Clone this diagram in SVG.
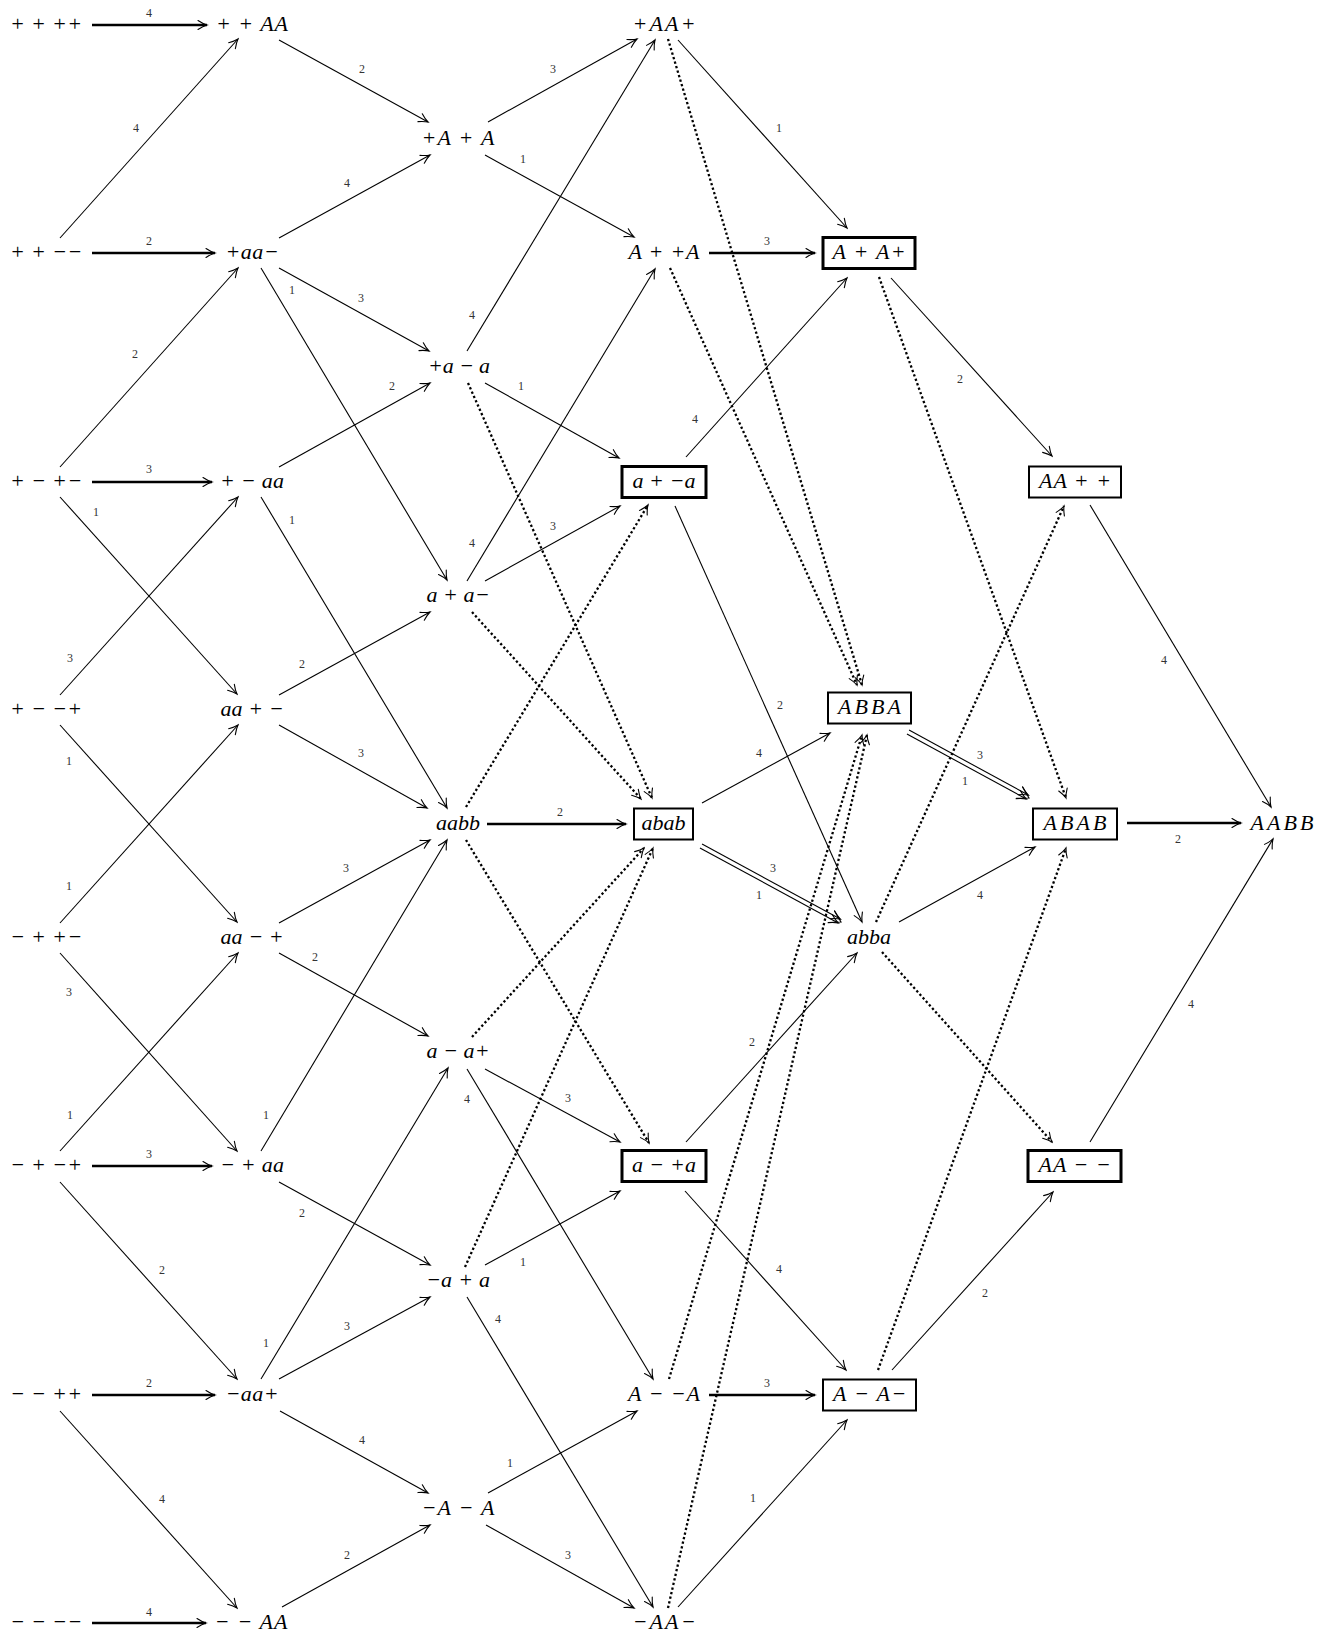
<svg xmlns="http://www.w3.org/2000/svg" width="1332" height="1634" viewBox="0 0 1332 1634">
<style>
text.n{font-family:"Liberation Serif","Times New Roman",serif;font-style:italic;font-size:22px;text-anchor:middle;fill:#000}
text.l{font-family:"Liberation Serif","Times New Roman",serif;font-size:12px;text-anchor:middle;fill:#333}
.e line{stroke:#000;stroke-width:1.1;fill:none;marker-end:url(#ah)}
.e line.t{stroke-width:2.6}
.e line.d{stroke-width:2.3;stroke-dasharray:2.3 2.4;marker-end:url(#ah)}
.dbl line{stroke:#000;stroke-width:1.1}
.dbl path{stroke:#000;stroke-width:1.1;fill:none}
rect.b{fill:#fff;stroke:#000;stroke-width:2}
rect.bt{fill:#fff;stroke:#000;stroke-width:3}
</style>
<defs>
<marker id="ah" viewBox="-10 -6 12 12" refX="0" refY="0" markerWidth="12" markerHeight="12" markerUnits="userSpaceOnUse" orient="auto">
<path d="M-9,-4.5 Q-4,-1.2 0,0 Q-4,1.2 -9,4.5" fill="none" stroke="#000" stroke-width="1.1" stroke-linecap="round"/>
</marker>
</defs>
<rect width="1332" height="1634" fill="#fff"/>
<g id="connectors" class="e">
<line class="t" x1="92" y1="25" x2="207" y2="25"/>
<line class="t" x1="92" y1="253" x2="215" y2="253"/>
<line class="t" x1="92" y1="482" x2="212" y2="482"/>
<line class="t" x1="92" y1="1166" x2="212" y2="1166"/>
<line class="t" x1="92" y1="1395" x2="215" y2="1395"/>
<line class="t" x1="92" y1="1623" x2="206" y2="1623"/>
<line class="t" x1="709" y1="253" x2="815" y2="253"/>
<line class="t" x1="487" y1="824" x2="626" y2="824"/>
<line class="t" x1="1127" y1="823" x2="1241" y2="823"/>
<line class="t" x1="709" y1="1395" x2="815" y2="1395"/>
<line x1="60" y1="238" x2="238" y2="39"/>
<line x1="60" y1="467" x2="238" y2="268"/>
<line x1="60" y1="497" x2="237" y2="694"/>
<line x1="60" y1="695" x2="238" y2="497"/>
<line x1="60" y1="725" x2="237" y2="922"/>
<line x1="60" y1="923" x2="238" y2="725"/>
<line x1="60" y1="953" x2="237" y2="1151"/>
<line x1="60" y1="1151" x2="238" y2="953"/>
<line x1="60" y1="1182" x2="237" y2="1379"/>
<line x1="60" y1="1411" x2="237" y2="1608"/>
<line x1="279" y1="40" x2="428" y2="122"/>
<line x1="279" y1="238" x2="430" y2="155"/>
<line x1="279" y1="268" x2="429" y2="351"/>
<line x1="279" y1="467" x2="430" y2="383"/>
<line x1="279" y1="695" x2="430" y2="612"/>
<line x1="279" y1="725" x2="427" y2="808"/>
<line x1="279" y1="923" x2="430" y2="840"/>
<line x1="279" y1="953" x2="428" y2="1036"/>
<line x1="279" y1="1182" x2="430" y2="1265"/>
<line x1="279" y1="1379" x2="430" y2="1297"/>
<line x1="280" y1="1411" x2="428" y2="1493"/>
<line x1="282" y1="1607" x2="430" y2="1525"/>
<line x1="261" y1="268" x2="447" y2="580"/>
<line x1="261" y1="497" x2="447" y2="808"/>
<line x1="261" y1="1151" x2="447" y2="840"/>
<line x1="261" y1="1379" x2="448" y2="1068"/>
<line x1="488" y1="122" x2="637" y2="39"/>
<line x1="485" y1="155" x2="634" y2="237"/>
<line x1="485" y1="383" x2="619" y2="458"/>
<line x1="485" y1="581" x2="620" y2="506"/>
<line x1="485" y1="1069" x2="620" y2="1142"/>
<line x1="485" y1="1265" x2="620" y2="1191"/>
<line x1="488" y1="1493" x2="637" y2="1411"/>
<line x1="486" y1="1525" x2="634" y2="1608"/>
<line x1="467" y1="351" x2="655" y2="40"/>
<line x1="467" y1="581" x2="655" y2="269"/>
<line x1="467" y1="1069" x2="653" y2="1379"/>
<line x1="467" y1="1297" x2="653" y2="1607"/>
<line x1="678" y1="40" x2="847" y2="228"/>
<line x1="686" y1="457" x2="847" y2="278"/>
<line x1="675" y1="506" x2="862" y2="922"/>
<line x1="702" y1="803" x2="830" y2="733"/>
<line x1="686" y1="1142" x2="857" y2="953"/>
<line x1="685" y1="1191" x2="846" y2="1370"/>
<line x1="678" y1="1607" x2="847" y2="1420"/>
<line x1="891" y1="278" x2="1052" y2="456"/>
<line x1="899" y1="922" x2="1035" y2="847"/>
<line x1="892" y1="1370" x2="1053" y2="1192"/>
<line x1="1090" y1="505" x2="1271" y2="807"/>
<line x1="1090" y1="1142" x2="1273" y2="839"/>
<line class="d" x1="468" y1="383" x2="652" y2="798"/>
<line class="d" x1="472" y1="612" x2="641" y2="799"/>
<line class="d" x1="466" y1="807" x2="648" y2="505"/>
<line class="d" x1="466" y1="840" x2="649" y2="1143"/>
<line class="d" x1="472" y1="1037" x2="644" y2="848"/>
<line class="d" x1="465" y1="1267" x2="653" y2="848"/>
<line class="d" x1="668" y1="39" x2="862" y2="685"/>
<line class="d" x1="670" y1="268" x2="857" y2="685"/>
<line class="d" x1="669" y1="1379" x2="862" y2="735"/>
<line class="d" x1="668" y1="1608" x2="867" y2="735"/>
<line class="d" x1="879" y1="277" x2="1066" y2="798"/>
<line class="d" x1="882" y1="952" x2="1052" y2="1142"/>
<line class="d" x1="876" y1="922" x2="1064" y2="506"/>
<line class="d" x1="878" y1="1370" x2="1066" y2="848"/>
<g class="dbl">
<line x1="699.95" y1="847.93" x2="838.2" y2="923.0"/>
<line x1="702.05" y1="844.07" x2="840.3" y2="919.1"/>
<path d="M828.2,922.5 L841,922 L834.4,911.0"/>
<line x1="906.95" y1="733.93" x2="1026.2" y2="798.97"/>
<line x1="909.05" y1="730.07" x2="1028.3" y2="795.1"/>
<path d="M1016.2,798.4 L1029,798 L1022.5,787.0"/>
</g>
</g>
<g id="labels">
<text class="l" x="149" y="17">4</text>
<text class="l" x="149" y="245">2</text>
<text class="l" x="149" y="473">3</text>
<text class="l" x="149" y="1158">3</text>
<text class="l" x="149" y="1387">2</text>
<text class="l" x="149" y="1616">4</text>
<text class="l" x="767" y="245">3</text>
<text class="l" x="560" y="816">2</text>
<text class="l" x="1178" y="843">2</text>
<text class="l" x="767" y="1387">3</text>
<text class="l" x="136" y="132">4</text>
<text class="l" x="135" y="358">2</text>
<text class="l" x="96" y="516">1</text>
<text class="l" x="70" y="662">3</text>
<text class="l" x="69" y="765">1</text>
<text class="l" x="69" y="890">1</text>
<text class="l" x="69" y="996">3</text>
<text class="l" x="70" y="1119">1</text>
<text class="l" x="162" y="1274">2</text>
<text class="l" x="162" y="1503">4</text>
<text class="l" x="362" y="73">2</text>
<text class="l" x="347" y="187">4</text>
<text class="l" x="361" y="302">3</text>
<text class="l" x="392" y="390">2</text>
<text class="l" x="302" y="668">2</text>
<text class="l" x="361" y="757">3</text>
<text class="l" x="346" y="872">3</text>
<text class="l" x="315" y="961">2</text>
<text class="l" x="302" y="1217">2</text>
<text class="l" x="347" y="1330">3</text>
<text class="l" x="362" y="1444">4</text>
<text class="l" x="347" y="1559">2</text>
<text class="l" x="292" y="294">1</text>
<text class="l" x="292" y="524">1</text>
<text class="l" x="266" y="1119">1</text>
<text class="l" x="266" y="1347">1</text>
<text class="l" x="553" y="73">3</text>
<text class="l" x="523" y="163">1</text>
<text class="l" x="521" y="390">1</text>
<text class="l" x="553" y="530">3</text>
<text class="l" x="568" y="1102">3</text>
<text class="l" x="523" y="1266">1</text>
<text class="l" x="510" y="1467">1</text>
<text class="l" x="568" y="1559">3</text>
<text class="l" x="472" y="319">4</text>
<text class="l" x="472" y="547">4</text>
<text class="l" x="467" y="1103">4</text>
<text class="l" x="498" y="1323">4</text>
<text class="l" x="779" y="132">1</text>
<text class="l" x="695" y="423">4</text>
<text class="l" x="780" y="709">2</text>
<text class="l" x="759" y="757">4</text>
<text class="l" x="773" y="872">3</text>
<text class="l" x="759" y="899">1</text>
<text class="l" x="752" y="1046">2</text>
<text class="l" x="779" y="1273">4</text>
<text class="l" x="753" y="1502">1</text>
<text class="l" x="960" y="383">2</text>
<text class="l" x="980" y="759">3</text>
<text class="l" x="965" y="785">1</text>
<text class="l" x="980" y="899">4</text>
<text class="l" x="985" y="1297">2</text>
<text class="l" x="1164" y="664">4</text>
<text class="l" x="1191" y="1008">4</text>
</g>
<g id="n00"><text class="n" x="46" y="31" textLength="72" lengthAdjust="spacing">+ + ++</text></g>
<g id="n01"><text class="n" x="46" y="259" textLength="72" lengthAdjust="spacing">+ + −−</text></g>
<g id="n02"><text class="n" x="46" y="488" textLength="72" lengthAdjust="spacing">+ − +−</text></g>
<g id="n03"><text class="n" x="46" y="716" textLength="72" lengthAdjust="spacing">+ − −+</text></g>
<g id="n04"><text class="n" x="46" y="944" textLength="72" lengthAdjust="spacing">− + +−</text></g>
<g id="n05"><text class="n" x="46" y="1172" textLength="72" lengthAdjust="spacing">− + −+</text></g>
<g id="n06"><text class="n" x="46" y="1401" textLength="72" lengthAdjust="spacing">− − ++</text></g>
<g id="n07"><text class="n" x="46" y="1629" textLength="72" lengthAdjust="spacing">− − −−</text></g>
<g id="n10"><text class="n" x="252" y="31" textLength="72" lengthAdjust="spacing">+ + AA</text></g>
<g id="n11"><text class="n" x="252" y="259" textLength="53" lengthAdjust="spacing">+aa−</text></g>
<g id="n12"><text class="n" x="252" y="488" textLength="64" lengthAdjust="spacing">+ − aa</text></g>
<g id="n13"><text class="n" x="252" y="716" textLength="63" lengthAdjust="spacing">aa + −</text></g>
<g id="n14"><text class="n" x="252" y="944" textLength="63" lengthAdjust="spacing">aa − +</text></g>
<g id="n15"><text class="n" x="252" y="1172" textLength="64" lengthAdjust="spacing">− + aa</text></g>
<g id="n16"><text class="n" x="252" y="1401" textLength="53" lengthAdjust="spacing">−aa+</text></g>
<g id="n17"><text class="n" x="251" y="1629" textLength="73" lengthAdjust="spacing">− − AA</text></g>
<g id="n20"><text class="n" x="458" y="145" textLength="73" lengthAdjust="spacing">+A + A</text></g>
<g id="n21"><text class="n" x="459" y="373" textLength="62" lengthAdjust="spacing">+a − a</text></g>
<g id="n22"><text class="n" x="458" y="602" textLength="63" lengthAdjust="spacing">a + a−</text></g>
<g id="n23"><text class="n" x="458" y="830">aabb</text></g>
<g id="n24"><text class="n" x="458" y="1058" textLength="63" lengthAdjust="spacing">a − a+</text></g>
<g id="n25"><text class="n" x="458" y="1287" textLength="64" lengthAdjust="spacing">−a + a</text></g>
<g id="n26"><text class="n" x="458" y="1515" textLength="73" lengthAdjust="spacing">−A − A</text></g>
<g id="n30"><text class="n" x="664" y="31" textLength="63" lengthAdjust="spacing">+AA+</text></g>
<g id="n31"><text class="n" x="664" y="259" textLength="71" lengthAdjust="spacing">A + +A</text></g>
<g id="n32"><rect class="bt" x="622" y="466.5" width="84" height="31"/><text class="n" x="664" y="488" textLength="63" lengthAdjust="spacing">a + −a</text></g>
<g id="n33"><rect class="b" x="634" y="808.5" width="59" height="31"/><text class="n" x="663.5" y="830">abab</text></g>
<g id="n34"><rect class="bt" x="622" y="1150.5" width="84" height="31"/><text class="n" x="664" y="1172" textLength="64" lengthAdjust="spacing">a − +a</text></g>
<g id="n35"><text class="n" x="664" y="1401" textLength="72" lengthAdjust="spacing">A − −A</text></g>
<g id="n36"><text class="n" x="664" y="1629" textLength="63" lengthAdjust="spacing">−AA−</text></g>
<g id="n40"><rect class="bt" x="823" y="237.5" width="92" height="31"/><text class="n" x="869" y="259" textLength="73" lengthAdjust="spacing">A + A+</text></g>
<g id="n41"><rect class="b" x="828" y="692.5" width="83" height="31"/><text class="n" x="869.5" y="714" textLength="63" lengthAdjust="spacing">ABBA</text></g>
<g id="n42"><text class="n" x="869" y="944">abba</text></g>
<g id="n43"><rect class="b" x="823" y="1379.5" width="93" height="31"/><text class="n" x="869.5" y="1401" textLength="73" lengthAdjust="spacing">A − A−</text></g>
<g id="n50"><rect class="b" x="1029" y="466.5" width="92" height="31"/><text class="n" x="1075" y="488" textLength="72" lengthAdjust="spacing">AA + +</text></g>
<g id="n51"><rect class="b" x="1033" y="808.5" width="84" height="31"/><text class="n" x="1075" y="830" textLength="63" lengthAdjust="spacing">ABAB</text></g>
<g id="n52"><rect class="bt" x="1028" y="1150.5" width="93" height="31"/><text class="n" x="1074.5" y="1172" textLength="72" lengthAdjust="spacing">AA − −</text></g>
<g id="n60"><text class="n" x="1282" y="830" textLength="63" lengthAdjust="spacing">AABB</text></g>
</svg>
